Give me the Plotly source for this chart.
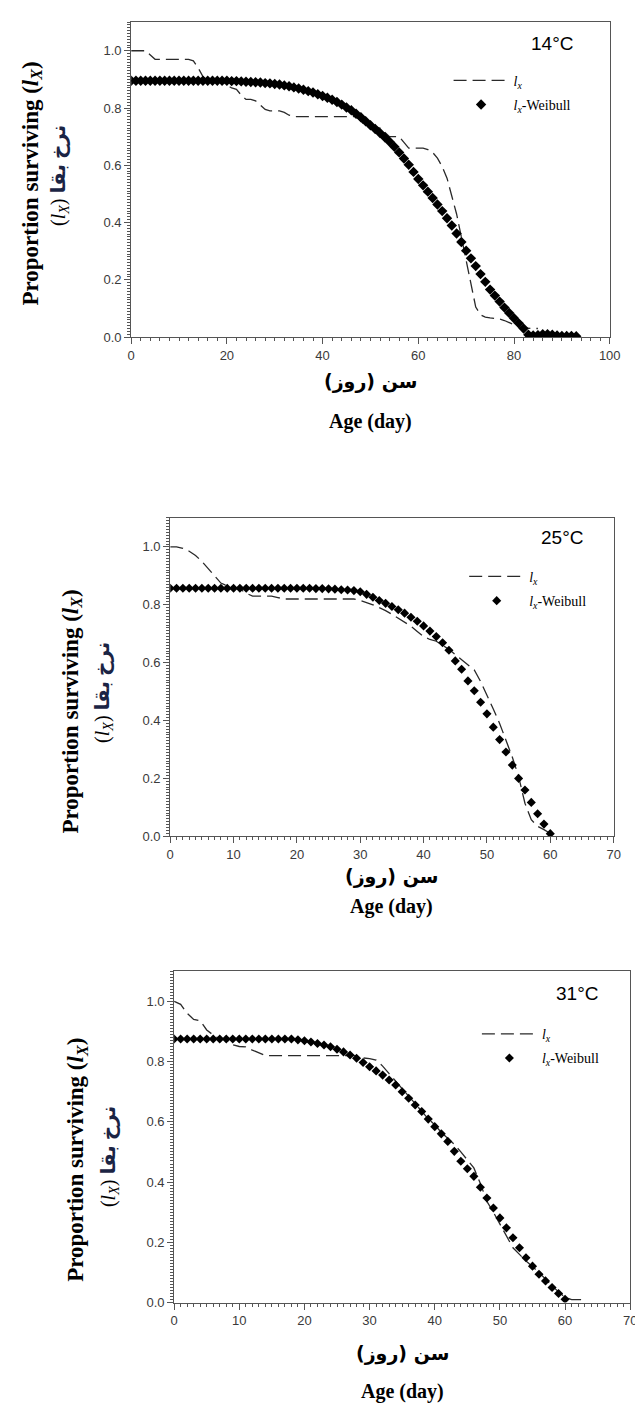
import plotly.graph_objects as go

# ---------------- data ----------------
panel_titles = ["14°C", "25°C", "31°C"]

# 14 °C
days_lx_14 = list(range(0, 86))
lx_14 = [1.0, 1.0, 1.0, 1.0, 0.985, 0.97, 0.97, 0.97, 0.97, 0.97,
         0.97, 0.97, 0.97, 0.965, 0.94, 0.91, 0.895, 0.895, 0.895, 0.89,
         0.88, 0.87, 0.865, 0.845, 0.83, 0.83, 0.825, 0.81, 0.795, 0.79,
         0.79, 0.79, 0.785, 0.775, 0.77, 0.77, 0.77, 0.77, 0.77, 0.77,
         0.77, 0.77, 0.77, 0.77, 0.77, 0.77, 0.77, 0.77, 0.755, 0.735,
         0.735, 0.735, 0.73, 0.715, 0.70, 0.70, 0.70, 0.68, 0.66, 0.66,
         0.66, 0.66, 0.655, 0.645, 0.625, 0.595, 0.555, 0.495, 0.43, 0.35,
         0.27, 0.18, 0.105, 0.078, 0.07, 0.067, 0.065, 0.063, 0.058, 0.05,
         0.042, 0.036, 0.032, 0.03, 0.03, 0.03]
days_wb_14 = list(range(0, 94))
wb_14 = [0.895, 0.895, 0.895, 0.895, 0.895, 0.895, 0.895, 0.895, 0.895, 0.895,
         0.895, 0.895, 0.895, 0.895, 0.895, 0.895, 0.895, 0.895, 0.895, 0.895,
         0.895, 0.894, 0.894, 0.893, 0.892, 0.891, 0.890, 0.889, 0.887, 0.886,
         0.884, 0.882, 0.879, 0.876, 0.872, 0.868, 0.864, 0.859, 0.854, 0.848,
         0.842, 0.836, 0.829, 0.821, 0.812, 0.802, 0.792, 0.780, 0.768, 0.754,
         0.740, 0.727, 0.713, 0.698, 0.682, 0.665, 0.645, 0.624, 0.602, 0.577,
         0.552, 0.530, 0.508, 0.486, 0.463, 0.440, 0.415, 0.390, 0.362, 0.332,
         0.302, 0.275, 0.248, 0.220, 0.193, 0.166, 0.145, 0.124, 0.103, 0.084,
         0.066, 0.048, 0.030, 0.008, 0.006, 0.007, 0.010, 0.010, 0.008, 0.006,
         0.004, 0.004, 0.004, 0.003]

# 25 °C
days_lx_25 = list(range(0, 61))
lx_25 = [1.0, 1.0, 0.995, 0.985, 0.97, 0.95, 0.925, 0.90, 0.875, 0.865,
         0.86, 0.855, 0.84, 0.83, 0.83, 0.83, 0.83, 0.825, 0.82, 0.82,
         0.82, 0.82, 0.82, 0.82, 0.82, 0.82, 0.82, 0.82, 0.82, 0.82,
         0.815, 0.808, 0.80, 0.79, 0.78, 0.767, 0.754, 0.74, 0.726, 0.708,
         0.69, 0.68, 0.674, 0.66, 0.646, 0.628, 0.61, 0.59, 0.575, 0.535,
         0.49, 0.44, 0.39, 0.33, 0.274, 0.206, 0.114, 0.057, 0.034, 0.023,
         0.01]
days_wb_25 = list(range(0, 61))
wb_25 = [0.857, 0.857, 0.857, 0.857, 0.857, 0.857, 0.857, 0.857, 0.857, 0.857,
         0.857, 0.857, 0.857, 0.857, 0.857, 0.857, 0.857, 0.857, 0.857, 0.857,
         0.857, 0.857, 0.857, 0.856, 0.856, 0.855, 0.854, 0.852, 0.851, 0.849,
         0.845, 0.836, 0.826, 0.815, 0.805, 0.794, 0.783, 0.771, 0.757, 0.743,
         0.727, 0.709, 0.690, 0.669, 0.643, 0.606, 0.577, 0.537, 0.503, 0.463,
         0.423, 0.377, 0.334, 0.291, 0.246, 0.200, 0.160, 0.117, 0.078, 0.042,
         0.009]

# 31 °C
days_lx_31 = list(range(0, 64))
lx_31 = [1.0, 0.99, 0.96, 0.94, 0.935, 0.905, 0.888, 0.875, 0.872, 0.856,
         0.85, 0.849, 0.838, 0.828, 0.82, 0.82, 0.82, 0.82, 0.82, 0.82,
         0.82, 0.82, 0.82, 0.82, 0.82, 0.82, 0.82, 0.82, 0.82, 0.812,
         0.81, 0.805, 0.785, 0.76, 0.735, 0.71, 0.685, 0.66, 0.635, 0.61,
         0.59, 0.565, 0.545, 0.525, 0.50, 0.475, 0.447, 0.395, 0.336, 0.30,
         0.26, 0.22, 0.182, 0.16, 0.138, 0.12, 0.10, 0.078, 0.055, 0.035,
         0.017, 0.01, 0.01, 0.01]
days_wb_31 = list(range(0, 61))
wb_31 = [0.875, 0.875, 0.875, 0.875, 0.875, 0.875, 0.875, 0.875, 0.875, 0.875,
         0.875, 0.875, 0.875, 0.875, 0.875, 0.875, 0.875, 0.875, 0.875, 0.872,
         0.869, 0.865, 0.860, 0.855, 0.849, 0.841, 0.832, 0.822, 0.811, 0.797,
         0.783, 0.769, 0.755, 0.739, 0.722, 0.700, 0.678, 0.656, 0.634, 0.609,
         0.584, 0.560, 0.535, 0.502, 0.469, 0.444, 0.419, 0.383, 0.347, 0.314,
         0.281, 0.248, 0.215, 0.182, 0.149, 0.121, 0.094, 0.072, 0.050, 0.030,
         0.011]

x_ticks_14 = [0, 20, 40, 60, 80, 100]
x_ticks_hot = [0, 10, 20, 30, 40, 50, 60, 70]
y_ticks = [0.0, 0.2, 0.4, 0.6, 0.8, 1.0]

lx_name = "<i>l</i><sub><i>x</i></sub>"
wb_name = "<i>l</i><sub><i>x</i></sub>-Weibull"
y_title = "<b>Proportion surviving (<i>l</i><sub><i>X</i></sub>)</b>"
y_title2 = "(<i>l</i><sub><i>X</i></sub>) <b><span style='color:#1b2444'>نرخ بقا</span></b>"
x_title_fa = "\u200fسن (روز)\u200f"
x_title_en = "<b>Age (day)</b>"

# ---------------- layout helpers (pixels -> paper) ----------------
W, H = 643, 1404


def fx(p):
    return p / W


def fy(p):
    return 1 - p / H


panels = [
    dict(days_lx=days_lx_14, lx=lx_14, days_wb=days_wb_14, wb=wb_14,
         xl=122, xr=612, yb=331, y1=43, xmax=100, xticks=x_ticks_14, minor=2,
         msize=8, temp=(553, 36), leg=(447, 57), yt1=(20, 177), yt2=(48, 168),
         xt=(367, 376, 416)),
    dict(days_lx=days_lx_25, lx=lx_25, days_wb=days_wb_25, wb=wb_25,
         xl=162, xr=616, yb=833, y1=542, xmax=70, xticks=x_ticks_hot, minor=1,
         msize=7, temp=(563, 533), leg=(463, 556), yt1=(61, 708), yt2=(93, 688),
         xt=(389, 873, 904)),
    dict(days_lx=days_lx_31, lx=lx_31, days_wb=days_wb_31, wb=wb_31,
         xl=166, xr=633, yb=1302, y1=999, xmax=70, xticks=x_ticks_hot, minor=1,
         msize=7, temp=(578, 991), leg=(476, 1016), yt1=(67, 1158), yt2=(100, 1155),
         xt=(400, 1353, 1391)),
]

fig = go.Figure()
annotations = []
tick_font = dict(family="Liberation Sans, Arial", size=13, color="#3a3a3a")

for i, p in enumerate(panels):
    n = "" if i == 0 else str(i + 1)
    legname = "legend" if i == 0 else f"legend{i + 1}"
    ytop_px = p["yb"] - 1.1 * (p["yb"] - p["y1"])
    fig.add_trace(go.Scatter(
        x=p["days_lx"], y=p["lx"], mode="lines", name=lx_name,
        line=dict(color="#2a2a2a", width=1.3, dash="13px,6px"),
        xaxis="x" + n, yaxis="y" + n, legend=legname, legendgroup=f"a{i}"))
    fig.add_trace(go.Scatter(
        x=p["days_wb"], y=p["wb"], mode="markers", name=wb_name,
        marker=dict(symbol="diamond", size=p["msize"], color="black"),
        xaxis="x" + n, yaxis="y" + n, legend=legname, legendgroup=f"b{i}"))

    common = dict(showline=True, linecolor="#555555", linewidth=1, mirror=True,
                  showgrid=False, zeroline=False, ticks="outside",
                  tickcolor="#555555", ticklen=6, tickwidth=1, tickfont=tick_font)
    fig.update_layout(**{
        "xaxis" + n: dict(common, domain=[fx(p["xl"]), fx(p["xr"])],
                          range=[0, p["xmax"]], tickvals=p["xticks"],
                          anchor="y" + n,
                          minor=dict(dtick=p["minor"], tick0=0, ticks="outside",
                                     ticklen=3, tickcolor="#555555")),
        "yaxis" + n: dict(common, domain=[fy(p["yb"]), fy(ytop_px)],
                          range=[0, 1.1], tickvals=y_ticks, tickformat=".1f",
                          anchor="x" + n,
                          minor=dict(dtick=0.01, tick0=0, ticks="outside",
                                     ticklen=3, tickcolor="#555555")),
        legname: dict(x=fx(p["leg"][0]), y=fy(p["leg"][1]), xanchor="left",
                      yanchor="top", bgcolor="rgba(0,0,0,0)", itemwidth=55,
                      tracegroupgap=3,
                      font=dict(family="Liberation Serif, Times New Roman",
                                size=14, color="black")),
    })

    annotations.append(dict(x=fx(p["temp"][0]), y=fy(p["temp"][1]),
                            xref="paper", yref="paper", text=panel_titles[i],
                            showarrow=False, xanchor="center", yanchor="middle",
                            font=dict(family="Liberation Sans, Arial", size=19,
                                      color="black")))
    annotations.append(dict(x=fx(p["yt1"][0]), y=fy(p["yt1"][1]),
                            xref="paper", yref="paper", text=y_title,
                            textangle=-90, showarrow=False,
                            xanchor="center", yanchor="middle",
                            font=dict(family="Liberation Serif, Times New Roman",
                                      size=23, color="black")))
    annotations.append(dict(x=fx(p["yt2"][0]), y=fy(p["yt2"][1]),
                            xref="paper", yref="paper", text=y_title2,
                            textangle=-90, showarrow=False,
                            xanchor="center", yanchor="middle",
                            font=dict(family="Liberation Serif, DejaVu Sans",
                                      size=20, color="black")))
    annotations.append(dict(x=fx(p["xt"][0]), y=fy(p["xt"][1]),
                            xref="paper", yref="paper",
                            text="<b>" + x_title_fa + "</b>", showarrow=False,
                            xanchor="center", yanchor="middle",
                            font=dict(family="DejaVu Sans", size=19,
                                      color="black")))
    annotations.append(dict(x=fx(p["xt"][0]), y=fy(p["xt"][2]),
                            xref="paper", yref="paper", text=x_title_en,
                            showarrow=False, xanchor="center",
                            yanchor="middle",
                            font=dict(family="Liberation Serif, Times New Roman",
                                      size=20, color="black")))

fig.update_layout(width=W, height=H, margin=dict(l=0, r=0, t=0, b=0),
                  paper_bgcolor="white", plot_bgcolor="white",
                  showlegend=True, annotations=annotations)

fig.write_html("out.html")
